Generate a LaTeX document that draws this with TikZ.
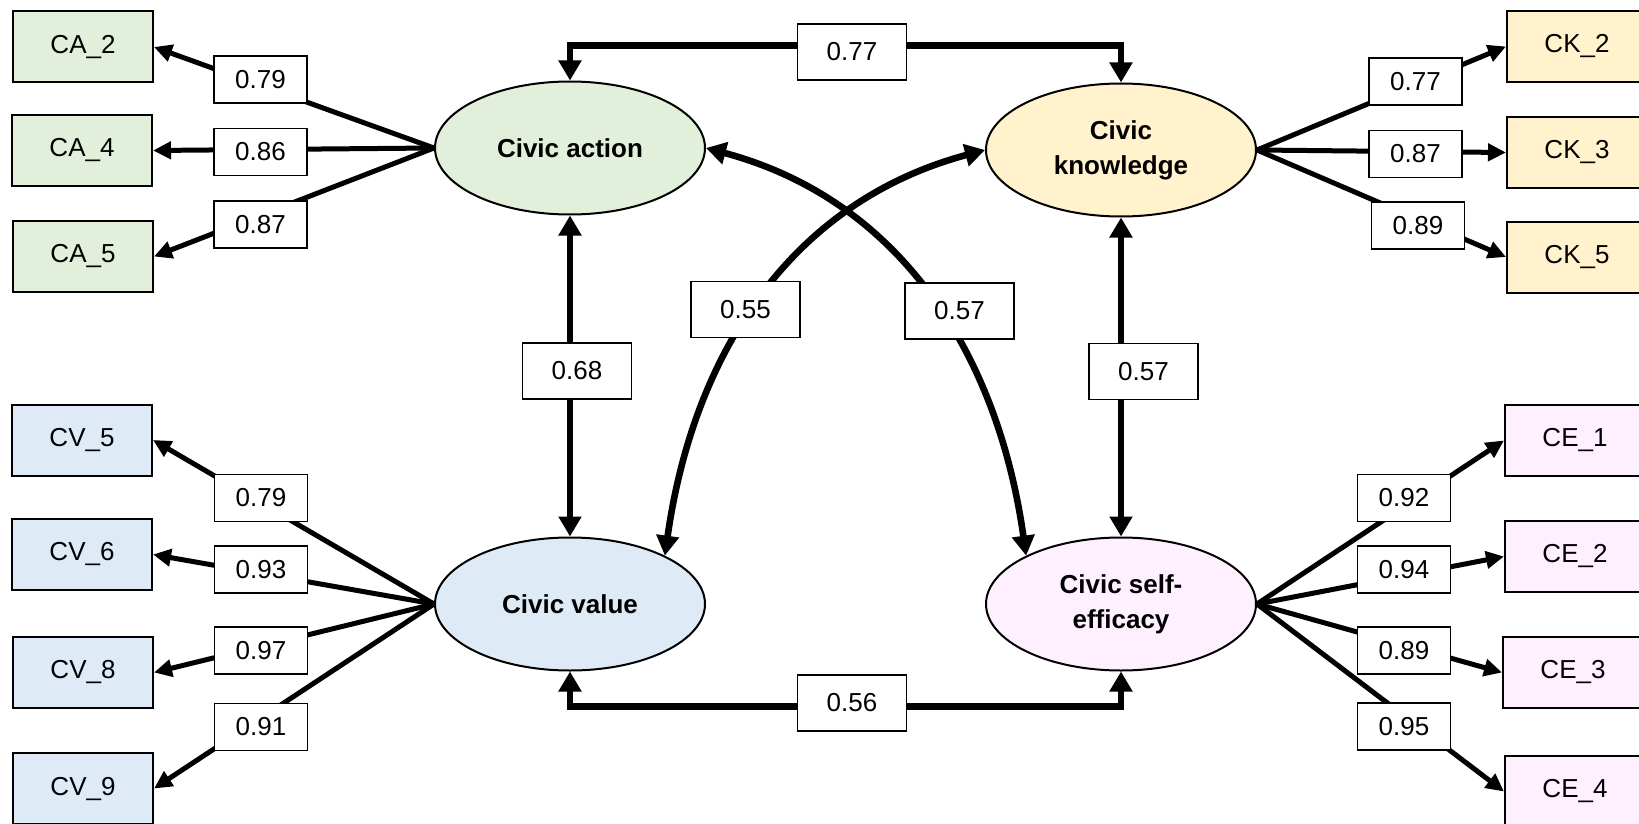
\documentclass[tikz,border=0pt]{standalone}
\usepackage{fontspec}
\setmainfont{Liberation Sans}
\usetikzlibrary{shapes.geometric,arrows.meta}

\definecolor{cagreen}{HTML}{E2EFDA}
\definecolor{ckyellow}{HTML}{FFF2CC}
\definecolor{cvblue}{HTML}{DEEBF7}
\definecolor{cepink}{HTML}{FFF0FF}

\begin{document}
\begin{tikzpicture}[x=0.5pt,y=-0.5pt,
  font=\fontsize{13}{17.5}\selectfont,
  latent/.style={ellipse,draw,line width=1pt,minimum width=135pt,minimum height=66.5pt,
    inner sep=0pt,align=center,font=\fontsize{13}{17.5}\selectfont\bfseries},
  item/.style={rectangle,draw,line width=1pt,minimum width=70pt,minimum height=35.5pt,inner sep=0pt},
  coef/.style={rectangle,draw,fill=white,line width=0.9pt,minimum width=46.5pt,minimum height=23.5pt,inner sep=0pt},
  corr/.style={coef,minimum width=54.5pt,minimum height=28pt},
  load/.style={line width=2.5pt,-{Triangle[length=9pt,width=8.5pt]}},
  cov/.style={line width=3.3pt,{Triangle[length=10pt,width=11pt]}-{Triangle[length=10pt,width=11pt]}}]
\useasboundingbox (0,0) rectangle (1639,824);

% latent factors
\node[latent,fill=cagreen] (ca) at (570,148) {Civic action};
\node[latent,fill=ckyellow] (ck) at (1121,150) {Civic\\knowledge};
\node[latent,fill=cvblue] (cv) at (570,604) {Civic value};
\node[latent,fill=cepink] (ce) at (1121,604) {Civic self-\\efficacy};

% observed items
\node[item,fill=cagreen] (ca2) at (83,47) {CA\_2};
\node[item,fill=cagreen] (ca4) at (82,150.5) {CA\_4};
\node[item,fill=cagreen] (ca5) at (83,256.5) {CA\_5};
\node[item,fill=cvblue] (cv5) at (82,440) {CV\_5};
\node[item,fill=cvblue] (cv6) at (82,554.5) {CV\_6};
\node[item,fill=cvblue] (cv8) at (83,672.5) {CV\_8};
\node[item,fill=cvblue] (cv9) at (83,788.5) {CV\_9};
\node[item,fill=ckyellow] (ck2) at (1577,46.5) {CK\_2};
\node[item,fill=ckyellow] (ck3) at (1577,152.5) {CK\_3};
\node[item,fill=ckyellow] (ck5) at (1577,257) {CK\_5};
\node[item,fill=cepink] (ce1) at (1575,440.5) {CE\_1};
\node[item,fill=cepink] (ce2) at (1575,556.5) {CE\_2};
\node[item,fill=cepink] (ce3) at (1573,672.5) {CE\_3};
\node[item,fill=cepink] (ce4) at (1575,791.5) {CE\_4};

% loadings
\draw[load] (ca.west) -- (ca2.east);
\draw[load] (ca.west) -- (ca4.east);
\draw[load] (ca.west) -- (ca5.east);
\draw[load] (cv.west) -- (cv5.east);
\draw[load] (cv.west) -- (cv6.east);
\draw[load] (cv.west) -- (cv8.east);
\draw[load] (cv.west) -- (cv9.east);
\draw[load] (ck.east) -- (ck2.west);
\draw[load] (ck.east) -- (ck3.west);
\draw[load] (ck.east) -- (ck5.west);
\draw[load] (ce.east) -- (ce1.west);
\draw[load] (ce.east) -- (ce2.west);
\draw[load] (ce.east) -- (ce3.west);
\draw[load] (ce.east) -- (ce4.west);

% correlations
\draw[cov] (ca.north) -- ++(0,-35) -| (ck.north);
\draw[cov] (cv.south) -- ++(0,35) -| (ce.south);
\draw[cov] (ca.south) -- (cv.north);
\draw[cov] (ck.south) -- (ce.north);
\draw[cov] (cv.27) to[out=82,in=195] (ck.west);
\draw[cov] (ca.east) to[out=-15,in=98] (ce.153);

% coefficients
\node[coef] (lca2) at (260.5,79.5) {0.79};
\node[coef] (lca4) at (260.5,152) {0.86};
\node[coef] (lca5) at (260.5,224.5) {0.87};
\node[coef] (lcv5) at (261,498) {0.79};
\node[coef] (lcv6) at (261,569.5) {0.93};
\node[coef] (lcv8) at (261,650.5) {0.97};
\node[coef] (lcv9) at (261,727) {0.91};
\node[coef] (lck2) at (1415.5,81.5) {0.77};
\node[coef] (lck3) at (1415.5,154) {0.87};
\node[coef] (lck5) at (1418,225.5) {0.89};
\node[coef] (lce1) at (1404,498) {0.92};
\node[coef] (lce2) at (1404,569.5) {0.94};
\node[coef] (lce3) at (1404,650.5) {0.89};
\node[coef] (lce4) at (1404,726.5) {0.95};
\node[corr] (rcack) at (852,52) {0.77};
\node[corr] (rcvce) at (852,703) {0.56};
\node[corr] (rcacv) at (577,371) {0.68};
\node[corr] (rckce) at (1143.5,371.5) {0.57};
\node[corr] (rcvck) at (745.5,309.5) {0.55};
\node[corr] (rcace) at (959.5,311) {0.57};
\end{tikzpicture}
\end{document}
